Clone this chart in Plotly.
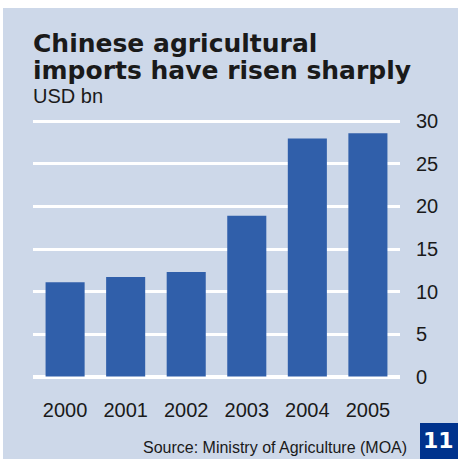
import plotly.graph_objects as go

# Chinese agricultural imports, USD bn
years = ["2000", "2001", "2002", "2003", "2004", "2005"]
imports_usd_bn = [11.1, 11.7, 12.3, 18.9, 28.0, 28.6]
y_ticks = [0, 5, 10, 15, 20, 25, 30]

title_lines = ["Chinese agricultural", "imports have risen sharply"]
unit_label = "USD bn"
source_text = "Source: Ministry of Agriculture (MOA)"
page_number = "11"

W, H = 458, 459
L, R, T, B = 33, 58, 118, 79
PW, PH = W - L - R, H - T - B

BG = "#cdd8e9"
BAR = "#305faa"
NAVY = "#00338d"
INK = "#1a1a1a"


def px_x(px):
    return (px - L) / PW


def px_y(py):
    return (H - B - py) / PH


fig = go.Figure(
    go.Bar(
        x=years,
        y=imports_usd_bn,
        marker=dict(color=BAR, line=dict(width=0)),
        hoverinfo="skip",
    )
)

fig.update_layout(
    width=W,
    height=H,
    margin=dict(l=L, r=R, t=T, b=B, pad=0),
    paper_bgcolor=BG,
    plot_bgcolor=BG,
    bargap=0.355,
    showlegend=False,
    font=dict(family="Liberation Sans, Arial, sans-serif", color=INK, size=20),
)

fig.update_xaxes(
    type="category",
    range=[-0.53, 5.53],
    showgrid=False,
    showline=False,
    ticks="",
    ticklabelstandoff=16,
    tickfont=dict(size=20, color=INK),
    fixedrange=True,
)

fig.update_yaxes(
    side="right",
    range=[-0.4, 30.4],
    tickvals=y_ticks,
    ticktext=[str(v) for v in y_ticks],
    showgrid=True,
    gridcolor="white",
    gridwidth=3,
    zeroline=True,
    zerolinecolor="white",
    zerolinewidth=4,
    showline=False,
    ticks="",
    ticklabelstandoff=15,
    tickfont=dict(size=20, color=INK),
    fixedrange=True,
)

shapes = [
    # white page strips at the top and left edges
    dict(type="rect", xref="paper", yref="paper",
         x0=px_x(-5), x1=px_x(W + 5), y0=px_y(8), y1=px_y(-5),
         fillcolor="white", line=dict(width=0), layer="above"),
    dict(type="rect", xref="paper", yref="paper",
         x0=px_x(-5), x1=px_x(3), y0=px_y(H + 5), y1=px_y(-5),
         fillcolor="white", line=dict(width=0), layer="above"),
    # page number box
    dict(type="rect", xref="paper", yref="paper",
         x0=px_x(420), x1=px_x(W + 2), y0=px_y(H + 2), y1=px_y(423),
         fillcolor=NAVY, line=dict(width=0), layer="above"),
]

title_font = dict(family="DejaVu Sans, sans-serif", size=25, color=INK, weight="bold")

annotations = [
    dict(text=title_lines[0], xref="paper", yref="paper",
         x=px_x(31), y=px_y(43.5), xanchor="left", yanchor="middle",
         showarrow=False, font=title_font),
    dict(text=title_lines[1], xref="paper", yref="paper",
         x=px_x(31), y=px_y(70.5), xanchor="left", yanchor="middle",
         showarrow=False, font=title_font),
    dict(text=unit_label, xref="paper", yref="paper",
         x=px_x(31), y=px_y(96), xanchor="left", yanchor="middle",
         showarrow=False,
         font=dict(size=20, color=INK)),
    dict(text=source_text, xref="paper", yref="paper",
         x=px_x(409), y=px_y(447), xanchor="right", yanchor="middle",
         showarrow=False,
         font=dict(size=16, color=INK)),
    dict(text=page_number, xref="paper", yref="paper",
         x=px_x(439), y=px_y(441), xanchor="center", yanchor="middle",
         showarrow=False,
         font=dict(family="DejaVu Sans, sans-serif", size=22, color="white", weight="bold")),
]

fig.update_layout(shapes=shapes, annotations=annotations)

fig.write_html("out.html", config={"displayModeBar": False})
